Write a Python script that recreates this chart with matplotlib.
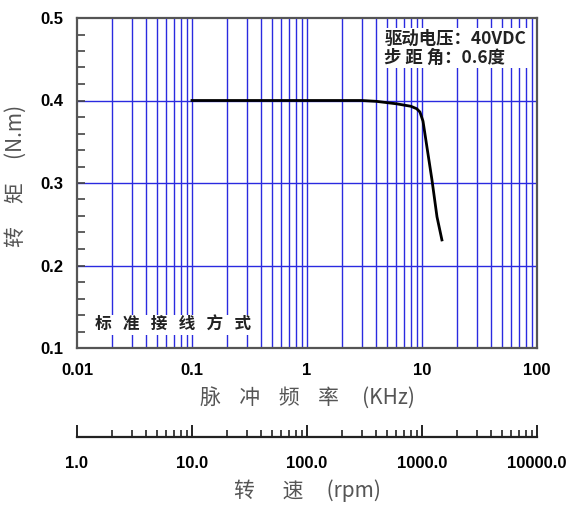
import matplotlib
matplotlib.use('Agg')
import matplotlib.pyplot as plt
from matplotlib.ticker import LogLocator, FixedLocator, NullFormatter

plt.rcParams['font.family'] = ['Liberation Sans', 'Noto Sans CJK SC', 'DejaVu Sans']

# torque curve
freq_khz = [0.1, 1.0, 3.0, 4.0, 6.0, 8.0, 9.0, 9.6, 10.2, 11.0, 12.2, 13.5, 14.9]
torque_nm = [0.400, 0.400, 0.400, 0.399, 0.396, 0.393, 0.390, 0.386, 0.375, 0.345, 0.304, 0.259, 0.231]

x_ticks = [0.01, 0.1, 1, 10, 100]
x_labels = ['0.01', '0.1', '1', '10', '100']
y_ticks = [0.1, 0.2, 0.3, 0.4, 0.5]
rpm_ticks = [1, 10, 100, 1000, 10000]
rpm_labels = ['1.0', '10.0', '100.0', '1000.0', '10000.0']

note_lines = ['驱动电压：40VDC', '步 距 角：0.6度']
wiring = '标   准   接   线   方   式'

cjk = ['Noto Sans CJK SC', 'DejaVu Sans']

W, H = 570, 507
fig = plt.figure(figsize=(W / 100, H / 100), dpi=100)
ax = fig.add_axes([77 / W, 1 - 348 / H, 460 / W, 330 / H])

ax.set_xscale('log')
ax.set_xlim(0.01, 100)
ax.set_ylim(0.1, 0.5)

grid_c = '#2a2ae0'
for d in [0.01, 0.1, 1, 10]:
    for k in range(1, 10):
        v = d * k
        if 0.01 < v < 100:
            ax.axvline(v, color=grid_c, lw=1.0, zorder=1)
for yv in [0.2, 0.3, 0.4]:
    ax.axhline(yv, color=grid_c, lw=1.0, zorder=1)

ax.plot(freq_khz, torque_nm, color='black', lw=2.0, zorder=3)

ax.set_xticks(x_ticks)
ax.set_xticklabels(x_labels)
ax.xaxis.set_minor_locator(LogLocator(base=10, subs=range(2, 10)))
ax.xaxis.set_minor_formatter(NullFormatter())
ax.set_yticks(y_ticks)
ax.set_yticklabels(['%.1f' % v for v in y_ticks])
ax.yaxis.set_minor_locator(FixedLocator([0.1 + 0.02 * i for i in range(21)]))
ax.tick_params(axis='y', which='both', direction='in', length=6, width=1.2, color='#444444',
               right=False, labelsize=12, pad=10)
ax.tick_params(axis='x', which='both', direction='in', length=0, labelsize=12, pad=11)
for lab in ax.get_xticklabels() + ax.get_yticklabels():
    lab.set_fontweight('bold')
for s in ax.spines.values():
    s.set_color('#555555')
    s.set_linewidth(1.6)
    s.set_zorder(4)

ax.set_xlabel('脉    冲    频    率     (KHz)', fontsize=15, color='#555555', labelpad=6,
              family=cjk)
ax.set_ylabel('转     矩     (N.m)', fontsize=15, color='#555555', family=cjk)
ax.yaxis.set_label_coords(-0.11, 0.52)

ax.text(0.668, 0.965, '\n'.join(note_lines), transform=ax.transAxes, ha='left', va='top',
        multialignment='left', fontsize=12.5, fontweight='bold', color='#222222',
        linespacing=1.1, family=cjk,
        bbox=dict(facecolor='white', edgecolor='none', pad=1.0), zorder=5)
ax.text(0.04, 0.07, wiring, transform=ax.transAxes, ha='left', va='center',
        fontsize=12, fontweight='bold', color='#222222', family=cjk,
        bbox=dict(facecolor='white', edgecolor='none', pad=1.0), zorder=5)

# rpm scale below
ax2 = fig.add_axes([77 / W, 1 - 437 / H, 460 / W, 0.0001])
ax2.set_xscale('log')
ax2.set_xlim(1, 10000)
ax2.set_yticks([])
for side in ['top', 'left', 'right']:
    ax2.spines[side].set_visible(False)
ax2.spines['bottom'].set_color('#222222')
ax2.spines['bottom'].set_linewidth(1.6)
ax2.set_xticks(rpm_ticks)
ax2.set_xticklabels(rpm_labels)
ax2.xaxis.set_minor_locator(LogLocator(base=10, subs=range(2, 10)))
ax2.xaxis.set_minor_formatter(NullFormatter())
ax2.tick_params(axis='x', which='major', direction='in', length=9, width=1.4, color='#222222',
                labelsize=12, pad=14)
ax2.tick_params(axis='x', which='minor', direction='in', length=5, width=1.2, color='#222222')
for lab in ax2.get_xticklabels():
    lab.set_fontweight('bold')
ax2.set_xlabel('转      速     (rpm)', fontsize=15, color='#555555', labelpad=6,
               family=cjk)

fig.savefig('out.png', dpi=100)
